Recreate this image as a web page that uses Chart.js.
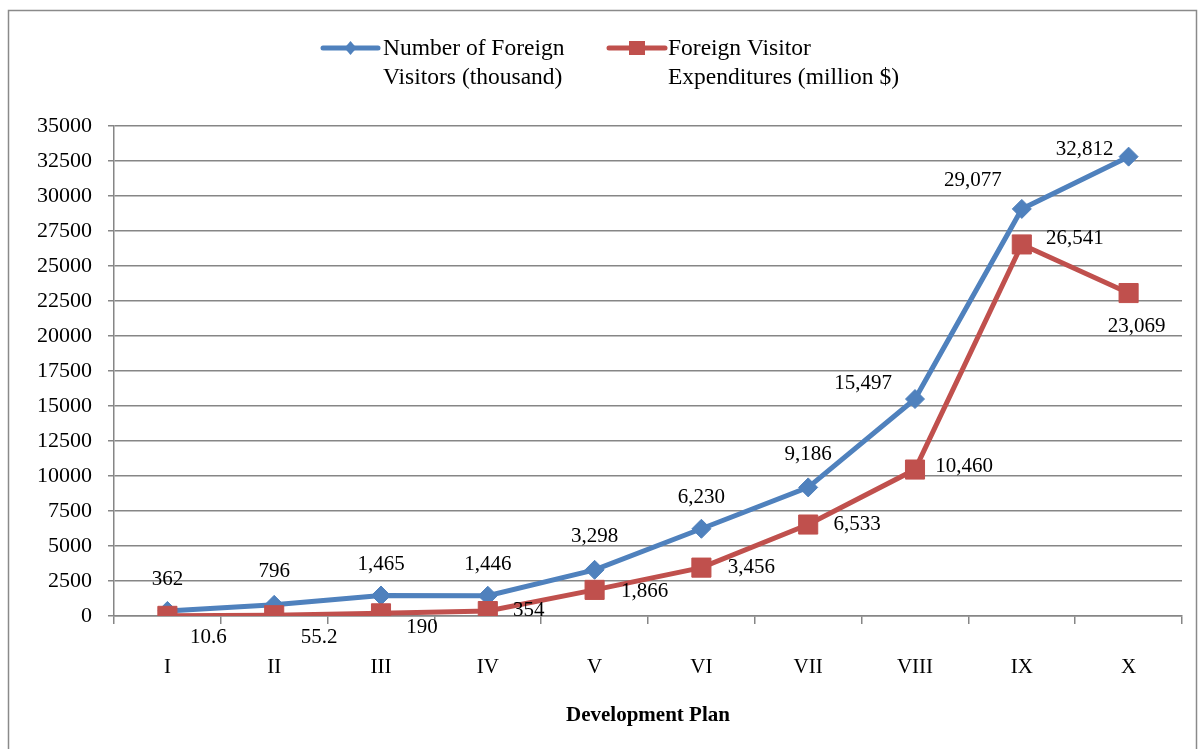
<!DOCTYPE html>
<html>
<head>
<meta charset="utf-8">
<script src="https://cdn.jsdelivr.net/npm/chart.js@4.4.1/dist/chart.umd.min.js"></script>
<style>
  html, body { margin: 0; padding: 0; background: #ffffff; }
  #wrap { position: relative; width: 1198px; height: 749px; }
  canvas { display: block; }
</style>
</head>
<body>
<div id="wrap"><canvas id="chart" width="1198" height="749"></canvas></div>
<script>
// ---- data ----
const categories = ['I', 'II', 'III', 'IV', 'V', 'VI', 'VII', 'VIII', 'IX', 'X'];
const visitors = [362, 796, 1465, 1446, 3298, 6230, 9186, 15497, 29077, 32812];
const expenditures = [10.6, 55.2, 190, 354, 1866, 3456, 6533, 10460, 26541, 23069];
const visitorsName = ['Number of Foreign', 'Visitors (thousand)'];
const expendituresName = ['Foreign Visitor', 'Expenditures (million $)'];
const xAxisTitle = 'Development Plan';
const yMin = 0, yMax = 35000, yStep = 2500;

// ---- styles (label placement offsets in px, relative to each point) ----
const visitorsLabelDx = [0, 0, 0, 0, 0, 0, 0, -52, -49, -44];
const visitorsLabelDy = [-31, -33, -31, -31, -33, -31, -33, -16, -28, -7];
const expendLabelDx = [41, 45, 41, 41, 50, 50, 49, 49, 53, 8];
const expendLabelDy = [22, 22, 14, -1, 2, 0, 0, -3, -6, 33];

const BLUE = '#4F81BD';
const RED = '#C0504D';
const GRID = '#868686';
const FONT = '"Liberation Serif", "Times New Roman", serif';

function fmt(v) { return v.toLocaleString('en-US'); }

const framePlugin = {
  id: 'frame',
  beforeDraw(chart) {
    const ctx = chart.ctx;
    ctx.save();
    ctx.fillStyle = '#ffffff';
    ctx.fillRect(0, 0, chart.width, chart.height);
    ctx.strokeStyle = '#8a8a8a';
    ctx.lineWidth = 1.5;
    ctx.strokeRect(8.5, 10.5, 1188, 800);
    ctx.restore();
  }
};

const labelsPlugin = {
  id: 'pointLabels',
  afterDatasetsDraw(chart) {
    const ctx = chart.ctx;
    ctx.save();
    ctx.font = '21px ' + FONT;
    ctx.fillStyle = '#000000';
    ctx.textAlign = 'center';
    ctx.textBaseline = 'middle';
    chart.data.datasets.forEach((ds, di) => {
      const meta = chart.getDatasetMeta(di);
      meta.data.forEach((pt, i) => {
        const dx = ds._dx[i], dy = ds._dy[i];
        ctx.fillText(fmt(ds.data[i]), pt.x + dx, pt.y + dy);
      });
    });
    ctx.restore();
  }
};

const legendPlugin = {
  id: 'customLegend',
  afterDraw(chart) {
    const ctx = chart.ctx;
    ctx.save();
    const items = [
      { color: BLUE, x0: 323, x1: 378, tx: 383, lines: visitorsName, marker: 'diamond' },
      { color: RED, x0: 609, x1: 665, tx: 668, lines: expendituresName, marker: 'square' }
    ];
    const y = 48;
    items.forEach(it => {
      ctx.strokeStyle = it.color;
      ctx.fillStyle = it.color;
      ctx.lineWidth = 5;
      ctx.lineCap = 'round';
      ctx.beginPath();
      ctx.moveTo(it.x0, y);
      ctx.lineTo(it.x1, y);
      ctx.stroke();
      const cx = (it.x0 + it.x1) / 2;
      ctx.beginPath();
      if (it.marker === 'diamond') {
        ctx.moveTo(cx, y - 7);
        ctx.lineTo(cx + 6, y);
        ctx.lineTo(cx, y + 7);
        ctx.lineTo(cx - 6, y);
        ctx.closePath();
      } else {
        ctx.rect(cx - 8, y - 7, 16, 14);
      }
      ctx.fill();
      ctx.fillStyle = '#000000';
      ctx.font = '23.5px ' + FONT;
      ctx.textAlign = 'left';
      ctx.textBaseline = 'middle';
      it.lines.forEach((t, k) => ctx.fillText(t, it.tx, y + 1 + k * 29));
    });
    ctx.restore();
  }
};

const ctx = document.getElementById('chart').getContext('2d');
new Chart(ctx, {
  type: 'line',
  data: {
    labels: categories,
    datasets: [
      {
        label: visitorsName.join(' '),
        data: visitors,
        borderColor: BLUE,
        backgroundColor: BLUE,
        borderWidth: 5,
        pointStyle: 'rectRot',
        pointRadius: 9.5,
        pointHoverRadius: 9.5,
        pointBorderWidth: 1,
        pointBorderColor: BLUE,
        pointBackgroundColor: BLUE,
        tension: 0,
        order: 1,
        _dx: visitorsLabelDx,
        _dy: visitorsLabelDy
      },
      {
        label: expendituresName.join(' '),
        data: expenditures,
        borderColor: RED,
        backgroundColor: RED,
        borderWidth: 5,
        pointStyle: 'rect',
        pointRadius: 13.5,
        pointHoverRadius: 13.5,
        pointBorderWidth: 1,
        pointBorderColor: RED,
        pointBackgroundColor: RED,
        tension: 0,
        order: 0,
        _dx: expendLabelDx,
        _dy: expendLabelDy
      }
    ]
  },
  options: {
    responsive: false,
    animation: false,
    events: [],
    layout: { padding: { left: 0, top: 126, right: 16, bottom: 0 } },
    plugins: {
      legend: { display: false },
      tooltip: { enabled: false },
      title: { display: false }
    },
    scales: {
      x: {
        type: 'category',
        offset: true,
        grid: {
          offset: true,
          drawOnChartArea: false,
          drawTicks: true,
          tickLength: 8,
          color: GRID,
          lineWidth: 1.5
        },
        border: { display: true, color: GRID, width: 1.5 },
        ticks: {
          color: '#000000',
          font: { family: FONT, size: 21 },
          padding: 31,
          maxRotation: 0,
          autoSkip: false
        },
        title: {
          display: true,
          text: xAxisTitle,
          color: '#000000',
          font: { family: FONT, size: 21, weight: 'bold' },
          padding: { top: 0, bottom: 21 }
        },
        afterFit(scale) { scale.height = 133; }
      },
      y: {
        min: yMin,
        max: yMax,
        ticks: {
          stepSize: yStep,
          color: '#000000',
          font: { family: FONT, size: 22 },
          padding: 16,
          callback: v => String(v)
        },
        grid: {
          color: GRID,
          lineWidth: 1.5,
          tickLength: 6,
          drawTicks: true
        },
        border: { display: true, color: GRID, width: 1.5 },
        afterFit(scale) { scale.width = 114; }
      }
    }
  },
  plugins: [framePlugin, labelsPlugin, legendPlugin]
});
</script>
</body>
</html>
